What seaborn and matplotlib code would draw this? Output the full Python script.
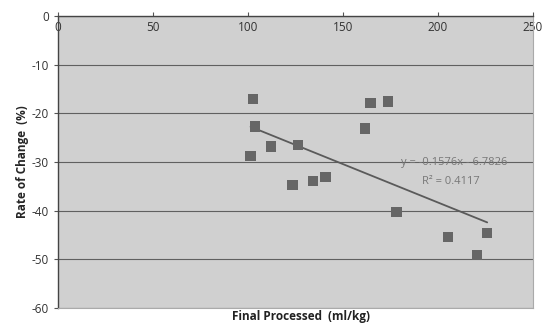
import numpy as np
import pandas as pd
import matplotlib
matplotlib.use("Agg")
import matplotlib.pyplot as plt
import seaborn as sns

# values
final_processed = [102.6, 103.7, 101.4, 112.0, 126.5, 123.5, 134.4, 140.9,
                   161.6, 164.6, 173.9, 178.3, 205.4, 220.7, 226.0]
rate_of_change = [-17.0, -22.7, -28.7, -26.8, -26.5, -34.7, -33.9, -33.1,
                  -23.1, -17.9, -17.6, -40.2, -45.4, -49.1, -44.6]
slope = -0.1576
intercept = -6.7826
r_squared = 0.4117
x_ticks = [0, 50, 100, 150, 200, 250]
y_ticks = [0, -10, -20, -30, -40, -50, -60]

df = pd.DataFrame({"x": final_processed, "y": rate_of_change})

sns.set_style("white")
plt.rcParams['font.family'] = ['Open Sans', 'DejaVu Sans']
plt.rcParams['axes.unicode_minus'] = False

fig = plt.figure(figsize=(5.42, 3.25), dpi=100)
ax = fig.add_axes([0.107, 0.052, 0.876, 0.899])
ax.set_facecolor('#d0d0d0')

#horizontal gridlines
for yv in y_ticks:
    ax.axhline(yv, color='#606060', lw=0.8, zorder=1)

#trendline over data range
xs = np.array([min(final_processed), max(final_processed)])
ax.plot(xs, slope * xs + intercept, color='#5a5a5a', lw=1.3, zorder=2)

sns.scatterplot(data=df, x="x", y="y", marker='s', s=55, color='#666666',
                edgecolor='none', ax=ax, zorder=3)

ax.set_xlim(0, 250)
ax.set_ylim(-60, 0)
ax.set_xticks(x_ticks)
ax.set_yticks(y_ticks)
ax.xaxis.tick_top()
ax.tick_params(axis='x', top=True, length=3, pad=-16, labelsize=8.5,
               labelcolor='#333333', color='#555555')
ax.tick_params(axis='y', left=True, length=3, labelsize=8.5,
               labelcolor='#333333', color='#555555')

for side in ['left', 'top']:
    ax.spines[side].set_color('#444444')
    ax.spines[side].set_linewidth(1.0)
for side in ['right', 'bottom']:
    ax.spines[side].set_color('#aaaaaa')
    ax.spines[side].set_linewidth(0.8)

ax.set_xlabel("")
ax.set_ylabel("Rate of Change  (%)", fontsize=8.5, fontweight='bold', labelpad=2)
fig.text(0.555, 0.005, "Final Processed  (ml/kg)", ha='center', va='bottom',
         fontsize=8.5, fontweight='bold', color='#222222')

ax.text(208.4, -30.2, f"y = {slope}x - {abs(intercept)}", ha='center', va='center',
        fontsize=8, color='#777777')
ax.text(206.8, -34.0, f"R² = {r_squared}", ha='center', va='center',
        fontsize=8, color='#777777')

fig.savefig("out.png", dpi=100)
plt.close()
